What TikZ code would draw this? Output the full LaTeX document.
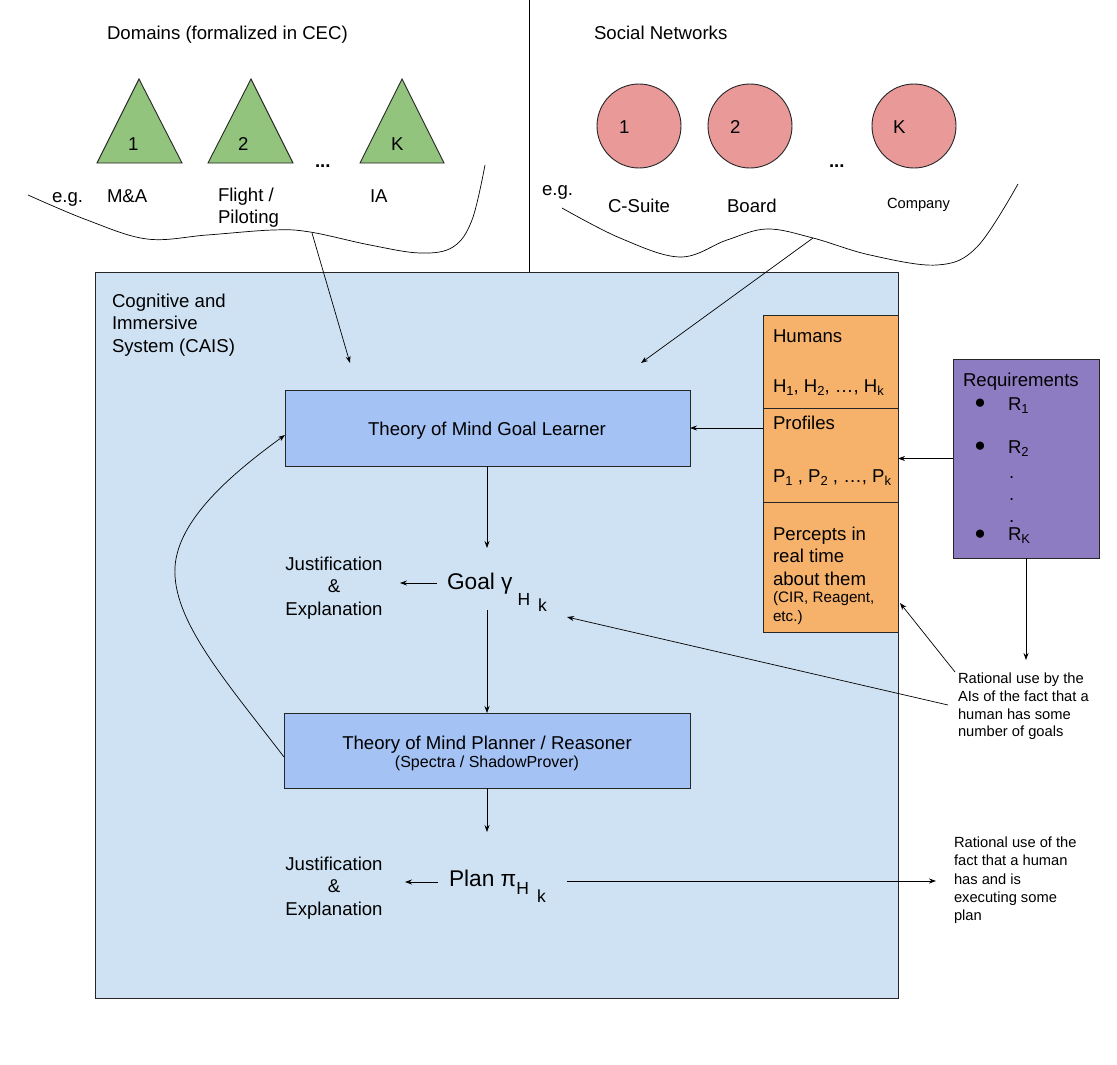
\documentclass[tikz,border=0pt]{standalone}
\usepackage{fontspec}
\setmainfont{Liberation Sans}
\usetikzlibrary{arrows.meta}
\definecolor{caisbg}{HTML}{CFE2F3}
\definecolor{tombg}{HTML}{A4C2F4}
\definecolor{orbg}{HTML}{F6B26B}
\definecolor{reqbg}{HTML}{8E7CC3}
\definecolor{trig}{HTML}{93C47D}
\definecolor{circp}{HTML}{EA9999}
\newcommand\lsub[1]{\raisebox{-3.5pt}{\fontsize{13}{13}\selectfont #1}}
\begin{document}
\begin{tikzpicture}[x=1pt,y=-1pt,
 every node/.style={inner sep=0pt, outer sep=0pt},
 f/.style={font=\fontsize{18.6}{22.5}\selectfont},
 fs/.style={font=\fontsize{16}{19}\selectfont},
 fr/.style={font=\fontsize{14.7}{18}\selectfont},
 fb/.style={font=\fontsize{22.7}{27}\selectfont},
 lbl/.style={f, anchor=base west},
 bul/.style={font=\fontsize{19}{19}\selectfont},
 box/.style={draw=black!85, line width=0.9pt, anchor=north west},
 arr/.style={-{Stealth[length=7pt,width=5pt]}, line width=0.7pt},
 ln/.style={line width=0.7pt},
]
\useasboundingbox (0,0) rectangle (1117,1065);
\fill[white] (0,0) rectangle (1117,1065);

% divider
\coordinate (dvt) at (529,0);
\coordinate (dvb) at (529,272);
\draw[ln] (dvt) -- (dvb);

% ---- Domains ----
\node[lbl] (domt) at (107,40) {Domains (formalized in CEC)};
\draw[box, fill=trig] (97,163) -- (139,79) -- (182,163) -- cycle;
\draw[box, fill=trig] (208,163) -- (251,79) -- (293,163) -- cycle;
\draw[box, fill=trig] (360,163) -- (402,79) -- (444,163) -- cycle;
\node[lbl] (t1) at (128,150) {1};
\node[lbl] (t2) at (238,150) {2};
\node[lbl] (tk) at (391,150) {K};
\node[lbl] (tdots) at (315,167) {\textbf{...}};
\node[lbl] (eg1) at (52,202) {e.g.};
\node[lbl] (ma) at (107,202) {M\&A};
\node[lbl, align=left, anchor=north west] (fl) at (218,188) {Flight /\\Piloting};
\node[lbl] (ia) at (370,202) {IA};
\draw[ln] plot[smooth, tension=0.6] coordinates {(28,195) (87,220) (147,239) (207,235) (273,230) (310,232) (370,245) (420,253) (453,247) (472,220) (485,165)};
\coordinate (dw) at (312,233);

% ---- Social networks ----
\node[lbl] (sot) at (594,40) {Social Networks};
\node[circle, draw=black!85, line width=0.9pt, fill=circp, minimum size=84pt] (s1) at (639,126) {};
\node[circle, draw=black!85, line width=0.9pt, fill=circp, minimum size=84pt] (s2) at (750,126) {};
\node[circle, draw=black!85, line width=0.9pt, fill=circp, minimum size=84pt] (sk) at (914,126) {};
\node[lbl] (c1) at (619,133) {1};
\node[lbl] (c2) at (730,133) {2};
\node[lbl] (ck) at (893,133) {K};
\node[lbl] (sdots) at (829,167) {\textbf{...}};
\node[lbl] (eg2) at (542,195) {e.g.};
\node[lbl] (cs) at (608,212) {C-Suite};
\node[lbl] (bd) at (727,212) {Board};
\node[fr, anchor=base west] (cp) at (887,208) {Company};
\draw[ln] plot[smooth, tension=0.6] coordinates {(562,208) (620,238) (680,257) (727,240) (767,229) (813,238) (870,255) (937,265) (977,247) (1018,184)};
\coordinate (sw) at (813,238);

% ---- CAIS ----
\node[box, fill=caisbg, minimum width=803pt, minimum height=726pt] (cais) at (95,272) {};
\node[lbl, align=left, anchor=north west] (caist) at (112,294) {Cognitive and\\Immersive\\System (CAIS)};

\node[box, fill=tombg, minimum width=405pt, minimum height=76pt] (gl) at (285,390) {};
\node[f, anchor=base] (glt) at (487,435) {Theory of Mind Goal Learner};
\node[box, fill=tombg, minimum width=406pt, minimum height=75pt] (pl) at (284,713) {};
\node[f, anchor=base] (plt1) at (487,749) {Theory of Mind Planner / Reasoner};
\node[fs, anchor=base] (plt2) at (487,767) {(Spectra / ShadowProver)};

% goal
\node[fb, anchor=base west] (goal) at (447,589) {Goal γ\hspace{5pt}\raisebox{-16pt}{\fontsize{17.5}{17.5}\selectfont H\hspace{8pt}\raisebox{-6pt}{k}}};
\node[f, align=center, anchor=north] (j1) at (334,557) {Justification\\\&\\Explanation};
% plan
\node[fb, anchor=base west] (plan) at (449,886) {Plan π\hspace{0pt}\raisebox{-8pt}{\fontsize{17.5}{17.5}\selectfont H\hspace{8pt}\raisebox{-8pt}{k}}};
\node[f, align=center, anchor=north] (j2) at (334,857) {Justification\\\&\\Explanation};

% orange column
\node[box, fill=orbg, minimum width=135pt, minimum height=93pt] (o1) at (763,315) {};
\node[box, fill=orbg, minimum width=135pt, minimum height=94pt] (o2) at (763,408) {};
\node[box, fill=orbg, minimum width=135pt, minimum height=130pt] (o3) at (763,502) {};
\node[lbl] (hum) at (773,342) {Humans};
\node[lbl] (hs) at (773,392) {H\lsub{1}, H\lsub{2}, …, H\lsub{k}};
\node[lbl] (pro) at (773,429) {Profiles};
\node[lbl] (ps) at (773,482) {P\lsub{1} , P\lsub{2} , …, P\lsub{k}};
\node[lbl, align=left, anchor=north west] (per) at (773,527) {Percepts in\\real time\\about them};
\node[font=\fontsize{15.2}{19}\selectfont, align=left, anchor=north west] (per2) at (773,591) {(CIR, Reagent,\\etc.)};

% requirements
\node[box, fill=reqbg, minimum width=146pt, minimum height=199pt] (req) at (953,359) {};
\node[lbl] (rqt) at (963,386) {Requirements};
\node[bul] (b1) at (980,404) {●};
\node[bul] (b2) at (980,447) {●};
\node[bul] (b3) at (980,535) {●};
\node[lbl] (r1) at (1008,410) {R\lsub{1}};
\node[lbl] (r2) at (1008,453) {R\lsub{2}};
\node[lbl] (rk) at (1008,540) {R\lsub{K}};
\node[lbl] (d1) at (1009,478) {.};
\node[lbl] (d2) at (1009,500) {.};
\node[lbl] (d3) at (1009,522) {.};

% rational texts
\node[align=left, anchor=north west, font=\fontsize{14.7}{17.7}\selectfont] (rat1) at (958,673) {Rational use by the\\AIs of the fact that a\\human has some\\number of goals};
\node[align=left, anchor=north west, font=\fontsize{14.7}{18.2}\selectfont] (rat2) at (954,837) {Rational use of the\\fact that a human\\has and is\\executing some\\plan};

% connectors
\coordinate (glin) at (350,363);
\draw[arr] (dw) -- (glin);
\coordinate (slin) at (641,363);
\draw[arr] (sw) -- (slin);
\draw[arr] (o2.west |- gl.east) -- (gl.east);
\draw[arr] (req.west) -- (o2.east |- req.west);
\coordinate (reqend) at (1026,660);
\draw[arr] (req.south -| reqend) -- (reqend);
\coordinate (ra1) at (955,672);
\coordinate (o3pt) at (900,603);
\draw[arr] (ra1) -- (o3pt);
\coordinate (ra2) at (948,705);
\coordinate (gsub) at (567,617);
\draw[arr] (ra2) -- (gsub);
\coordinate (gtop) at (487,548);
\draw[arr] (gl.south -| gtop) -- (gtop);
\coordinate (gbot) at (487,610);
\draw[arr] (gbot) -- (pl.north -| gbot);
\coordinate (ptop) at (487,832);
\draw[arr] (pl.south -| ptop) -- (ptop);
\coordinate (gl1) at (437,583);
\coordinate (gl2) at (400,583);
\draw[arr] (gl1) -- (gl2);
\coordinate (pl1) at (438,882);
\coordinate (pl2) at (405,882);
\draw[arr] (pl1) -- (pl2);
\coordinate (pr1) at (567,881);
\coordinate (pr2) at (936,881);
\draw[arr] (pr1) -- (pr2);
\coordinate (fbs) at (284,757);
\coordinate (fbe) at (285,435);
\draw[arr] (fbs) .. controls (225,680) and (172,620) .. (175,567) .. controls (178,520) and (230,475) .. (fbe);
\end{tikzpicture}
\end{document}
